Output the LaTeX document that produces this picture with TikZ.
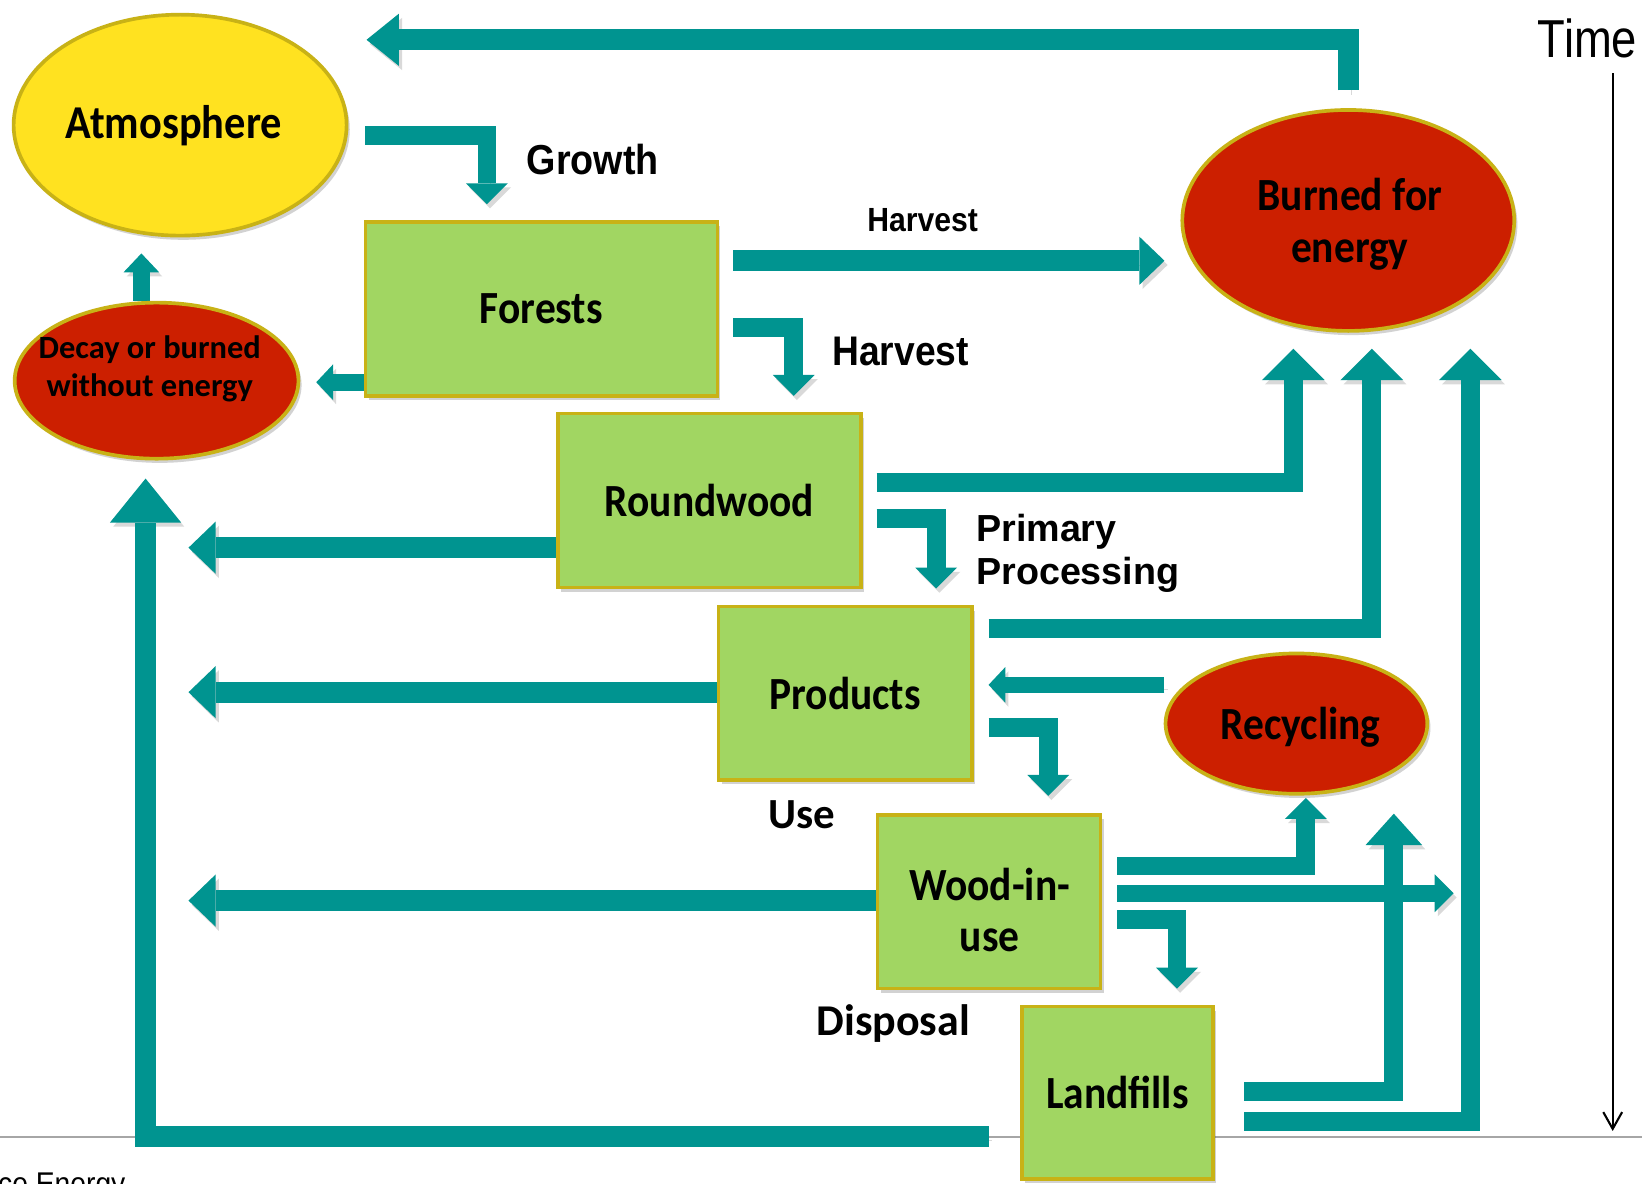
\documentclass[tikz,border=0pt]{standalone}
\usepackage{fontspec}
\setmainfont{Carlito}
\newfontfamily\nodefont[FakeStretch=0.9]{Carlito}
\newfontfamily\plainfont{Carlito}
\newfontfamily\labfont[FakeStretch=0.9]{Liberation Sans}
\newfontfamily\arialfont{Liberation Sans}
\newfontfamily\timefont[FakeStretch=0.85]{Liberation Sans}
\usetikzlibrary{arrows.meta,shapes.geometric,shadows,backgrounds}
\definecolor{tealc}{RGB}{0,148,144}
\definecolor{goldc}{RGB}{200,178,22}
\definecolor{yellowc}{RGB}{255,226,32}
\definecolor{redc}{RGB}{204,31,0}
\definecolor{greenc}{RGB}{161,214,98}
\definecolor{grayc}{RGB}{166,166,166}
\begin{document}
\begin{tikzpicture}[x=1pt,y=-1pt,
  shd/.style={drop shadow={shadow xshift=3pt,shadow yshift=-4pt,opacity=0.25,fill=black!70}},
  box/.style={draw=goldc,line width=3.5pt,fill=greenc,inner sep=0pt,align=center,shd,
    font=\nodefont\bfseries\fontsize{44}{48}\selectfont},
  oval/.style={ellipse,draw=goldc,line width=3.5pt,inner sep=0pt,align=center,shd,
    font=\nodefont\bfseries\fontsize{44}{50}\selectfont},
  flow/.style={draw=tealc,line width=#1,
    preaction={draw=black,opacity=0.15,transform canvas={shift={(3pt,-4pt)}}}},
  hd/.style 2 args={-{Triangle[length=#1,width=#2,line width=0pt]}},
  lab/.style={inner sep=0pt,font=\labfont\bfseries\fontsize{#1}{#1}\selectfont},
  lab2/.style={inner sep=0pt,font=\plainfont\bfseries\fontsize{#1}{#1}\selectfont},
]
\useasboundingbox (0,0) rectangle (1568,1130);

% ---------- nodes ----------
\node[oval,fill=yellowc,minimum width=318pt,minimum height=211pt] (atm) at (172,119.5) {};
\node[inner sep=0pt,font=\nodefont\bfseries\fontsize{45}{50}\selectfont] (atmt) at (166,120) {Atmosphere};
\node[oval,fill=redc,minimum width=271pt,minimum height=149pt] (decay) at (149.5,363.5) {};
\node[inner sep=0pt,align=center,font=\plainfont\bfseries\fontsize{31}{36}\selectfont] (decayt) at (143,352) {Decay or burned\\without energy};
\node[oval,fill=redc,minimum width=317pt,minimum height=211pt] (burned) at (1287.5,210.5) {};
\node[inner sep=0pt,align=center,font=\nodefont\bfseries\fontsize{44}{50}\selectfont] (burnedt) at (1289,214) {Burned for\\energy};
\node[oval,fill=redc,minimum width=250pt,minimum height=134pt] (recyc) at (1238,691) {};
\node[inner sep=0pt,font=\nodefont\bfseries\fontsize{44}{50}\selectfont] (recyct) at (1242,694) {Recycling};

\node[box,minimum width=336pt,minimum height=166pt] (forests) at (517,295) {Forests};
\node[box,minimum width=289pt,minimum height=166pt] (roundwood) at (677.5,478) {Roundwood};
\node[box,minimum width=242pt,minimum height=166pt] (products) at (807,662) {Products};
\node[box,minimum width=213pt,minimum height=166pt] (wood) at (944.5,861) {};
\node[inner sep=0pt,align=center,font=\nodefont\bfseries\fontsize{44}{48}\selectfont] (woodt) at (945,869) {Wood-in-\\use};
\node[box,minimum width=182pt,minimum height=165pt] (landfills) at (1067,1043.5) {Landfills};

% ---------- labels ----------
\node[lab=40] (growth) at (566,152) {Growth};
\node[lab=32] (harv1) at (881,210) {Harvest};
\node[lab=39.5] (harv2) at (860,336) {Harvest};
\node[inner sep=0pt,anchor=west,align=left,font=\arialfont\bfseries\fontsize{36}{41}\selectfont] (primary) at (932,528) {Primary\\Processing};
\node[lab2=41] (use) at (766,778) {Use};
\node[lab2=42] (disposal) at (853,977) {Disposal};
\node[inner sep=0pt,font=\timefont\fontsize{51}{51}\selectfont] (time) at (1516,37) {Time};
\node[inner sep=0pt,anchor=base west,font=\labfont\fontsize{30}{30}\selectfont] (src) at (-2,1141) {ce Energy};

% ---------- coordinates ----------
\coordinate (atmtop) at (350,38);
\coordinate (g0) at (349,129);   \coordinate (g1) at (465,195);
\coordinate (h0) at (700,249);   \coordinate (h1) at (1112,249);
\coordinate (hd0) at (700,313);  \coordinate (hd1) at (758,378);
\coordinate (fd1) at (302,365);
\coordinate (da1) at (135,242);
\coordinate (rb0) at (837,461);  \coordinate (rb1) at (1235,333);
\coordinate (pp0) at (837,495);  \coordinate (pp1) at (894,562);
\coordinate (pb0) at (944,600);  \coordinate (pb1) at (1310,333);
\coordinate (lb0) at (1188,1071); \coordinate (lb1) at (1404,333);
\coordinate (lr0) at (1188,1042); \coordinate (lr1) at (1331,777);
\coordinate (wr0) at (1067,827); \coordinate (wr1) at (1247,762);
\coordinate (wx0) at (1067,853); \coordinate (wx1) at (1388,853);
\coordinate (wl0) at (1067,878); \coordinate (wl1) at (1124,944);
\coordinate (rp0) at (1112,654); \coordinate (rp1) at (944,654);
\coordinate (pw0) at (944,695);  \coordinate (pw1) at (1001,760);
\coordinate (rl1) at (180,523);
\coordinate (pl1) at (180,661);
\coordinate (wll1) at (180,860);
\coordinate (big0) at (944,1085); \coordinate (big1) at (139,457);
\coordinate (gl0) at (0,1086);   \coordinate (gl1) at (1568,1086);
\coordinate (ta0) at (1540,70);  \coordinate (ta1) at (1540,1080);

% ---------- connectors ----------
\begin{pgfonlayer}{background}
\fill[white] (0,0) rectangle (1568,1130);
\draw[grayc,line width=2pt] (gl0) -- (gl1);
\draw[black,line width=2pt,-{Straight Barb[length=16pt,width=18pt]}] (ta0) -- (ta1);

\draw[flow=20pt,hd={31pt}{50pt}] ([yshift=17pt]burned.north) |- (atmtop);
\draw[flow=18pt,hd={20pt}{40pt}] (g0) -| (g1);
\draw[flow=20pt,hd={24pt}{46pt}] (h0) -- (h1);
\draw[flow=18pt,hd={20pt}{40pt}] (hd0) -| (hd1);
\draw[flow=16pt,hd={16pt}{34pt}] (forests.west |- fd1) -- (fd1);
\draw[flow=16pt,hd={18pt}{34pt}] (decay.north -| da1) -- (da1);
\draw[flow=18pt,hd={30pt}{60pt}] (rb0) -| (rb1);
\draw[flow=18pt,hd={20pt}{40pt}] (pp0) -| (pp1);
\draw[flow=18pt,hd={30pt}{60pt}] (pb0) -| (pb1);
\draw[flow=18pt,hd={30pt}{60pt}] (lb0) -| (lb1);
\draw[flow=18pt,hd={30pt}{54pt}] (lr0) -| (lr1);
\draw[flow=18pt,hd={20pt}{40pt}] (wr0) -| (wr1);
\draw[flow=16pt,hd={18pt}{36pt}] (wx0) -- (wx1);
\draw[flow=18pt,hd={20pt}{40pt}] (wl0) -| (wl1);
\draw[flow=15pt,hd={16pt}{34pt}] (rp0) -- (rp1);
\draw[flow=18pt,hd={20pt}{40pt}] (pw0) -| (pw1);
\draw[flow=20pt,hd={26pt}{50pt}] (roundwood.west |- rl1) -- (rl1);
\draw[flow=20pt,hd={26pt}{50pt}] (products.west |- pl1) -- (pl1);
\draw[flow=20pt,hd={26pt}{50pt}] (wood.west |- wll1) -- (wll1);
\draw[flow=20pt,hd={42pt}{68pt}] (big0) -| (big1);
\end{pgfonlayer}
\end{tikzpicture}
\end{document}
